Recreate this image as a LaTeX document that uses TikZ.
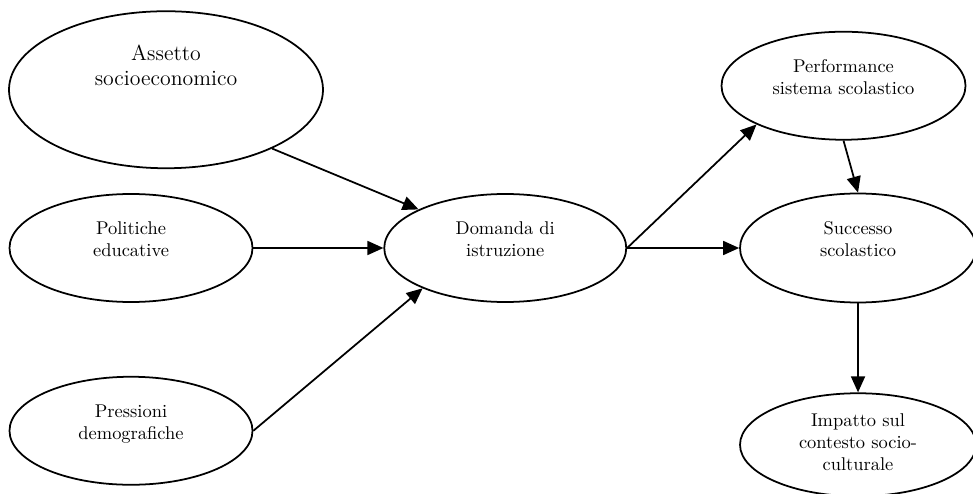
\documentclass[tikz,border=0pt]{standalone}
\usepackage{tikz}
\usetikzlibrary{
  arrows.meta,
  positioning,
  shapes.geometric
}
\newcommand{\ovalfont}{\fontsize{10.5}{12.5}\selectfont}
\newcommand{\bigovalfont}{\fontsize{12.4}{14.2}\selectfont}

\begin{document}
\begin{tikzpicture}[
  node distance=1cm,
  oval/.style={
    ellipse,
    draw=black,
    line width=1pt,
    align=center,
    font=\ovalfont,
    inner sep=0pt,
    text depth=0.35cm,
    minimum width=4.86cm,
    minimum height=2.16cm
  },
  link/.style={
    -{Triangle[length=3.2mm, width=2.8mm]},
    line width=1pt
  }
]

\useasboundingbox (0,0) rectangle (19.46,-9.88);

\node[oval] (pol) at (2.62,-4.96) {Politiche\\educative};
\node[oval, below=1.46cm of pol] (dem) {Pressioni\\demografiche};
\node[oval, minimum width=6.28cm, minimum height=3.14cm, above=0.48cm of pol, xshift=0.7cm,
  label={[font=\bigovalfont, align=center, yshift=0.48cm]center:{Assetto\\socioeconomico}}] (soc) {};
\node[oval, minimum width=4.84cm, right=2.6cm of pol] (dom) {Domanda di\\istruzione};
\node[oval, minimum width=4.72cm, minimum height=2.18cm, right=2.24cm of dom] (succ) {Successo\\scolastico};
\node[oval, minimum width=4.88cm, above=1.04cm of succ, xshift=-0.29cm] (perf) {Performance\\sistema scolastico};
\node[oval, minimum width=4.72cm, minimum height=2.06cm, text depth=0.1cm, below=1.78cm of succ] (imp) {Impatto sul\\contesto socio-\\culturale};

\draw[link] (soc.-29) -- (dom.156);
\draw[link] (pol.east) -- (dom.west);
\draw[link] (dem.east) -- (dom.206);
\draw[link] (dom.east) -- (perf.204);
\draw[link] (dom.east) -- (succ.west);
\draw[link] (perf.south) -- (succ.north);
\draw[link] (succ.south) -- (imp.north);

\end{tikzpicture}
\end{document}
